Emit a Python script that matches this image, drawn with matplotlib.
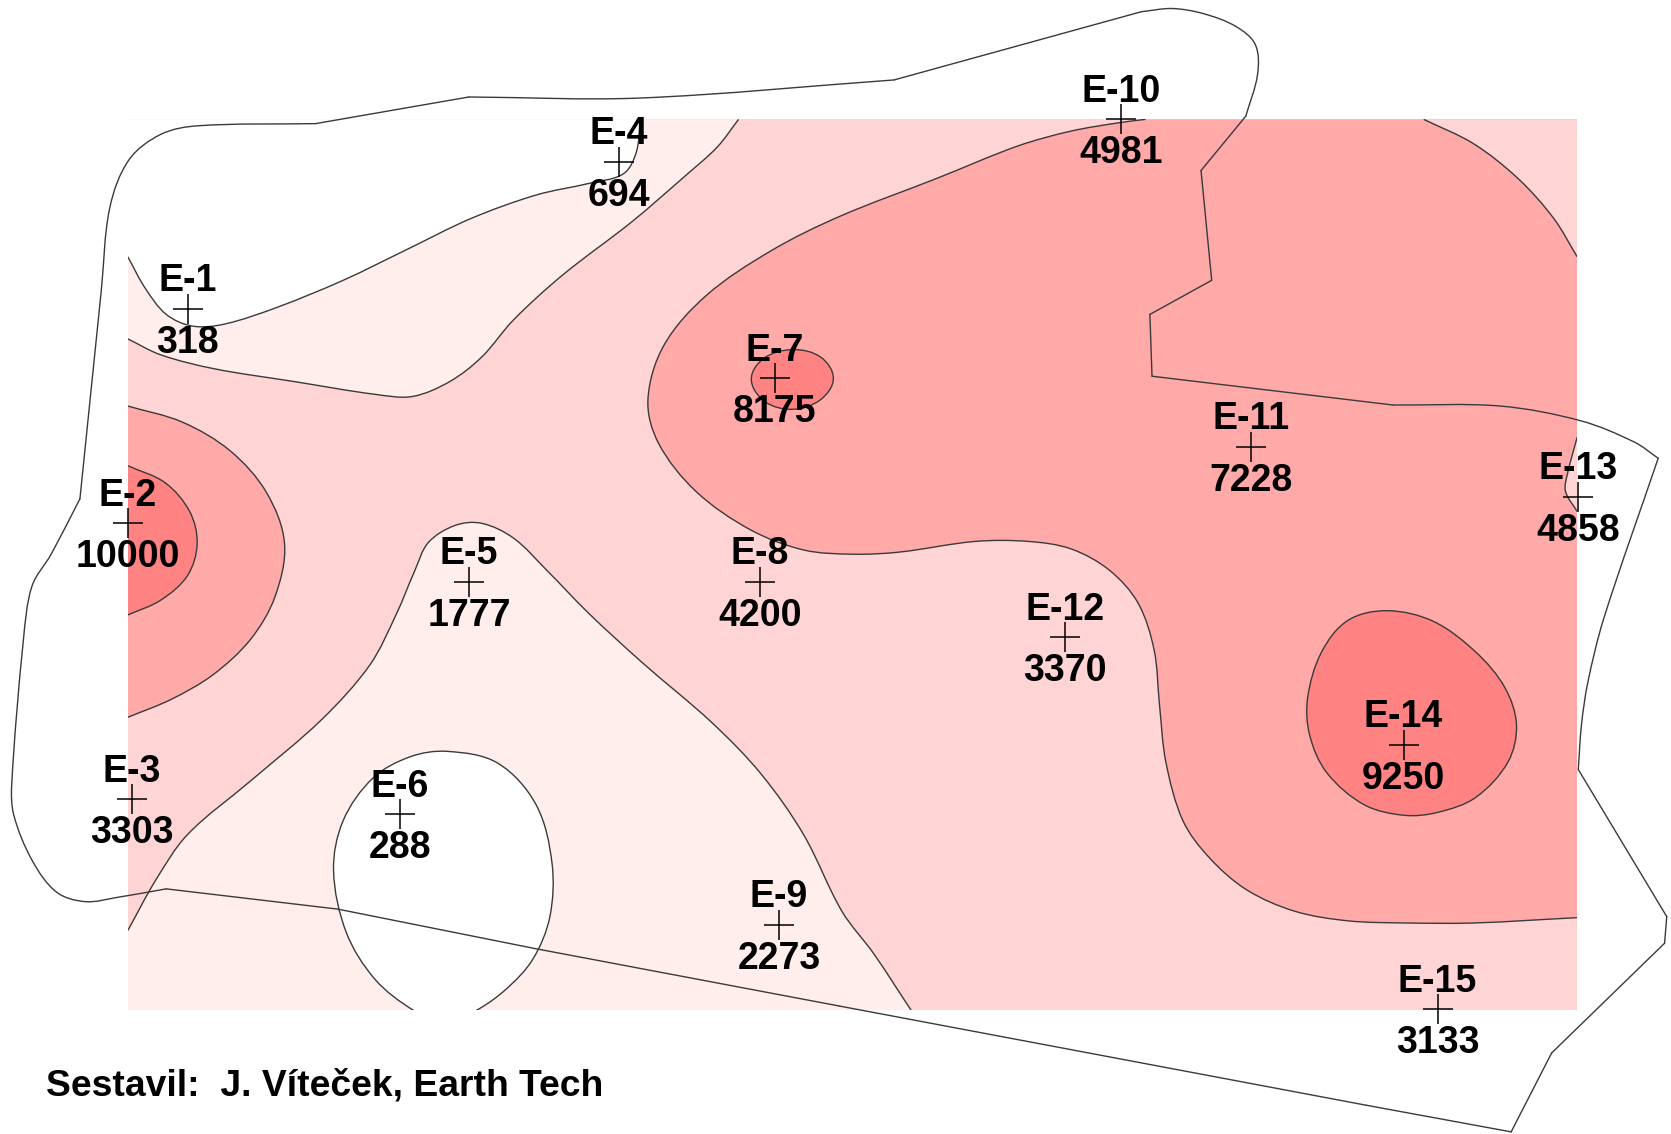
import math
import matplotlib
matplotlib.use("Agg")
import matplotlib.pyplot as plt
from matplotlib.path import Path
from matplotlib.patches import PathPatch, Rectangle

# wells
well_names = ["E-1", "E-2", "E-3", "E-4", "E-5", "E-6", "E-7", "E-8", "E-9", "E-10", "E-11", "E-12", "E-13", "E-14", "E-15"]
well_x = [176, 120, 124, 581, 440, 375, 727, 713, 731, 1052, 1174, 999, 1481, 1317, 1349]
well_y = [290, 491, 750, 152, 546, 764, 355, 546, 868, 112, 419, 598, 466, 699, 947]
well_values = [318, 10000, 3303, 694, 1777, 288, 8175, 4200, 2273, 4981, 7228, 3370, 4858, 9250, 3133]

# colours
c_lightest = "#FFEEEC"
c_light = "#FFD4D4"
c_medium = "#FFA9A9"
c_dark = "#FF8383"
line_col = "#3a3a3a"

# area of the map
rect_x = [120, 1480]
rect_y = [112, 948]

# contours
white_top = [(120, 241), (136, 270), (156, 295), (181, 306), (211, 304), (261, 288), (322, 263), (382, 234),
             (442, 205), (503, 183), (553, 172), (585, 163), (597, 143), (601, 112)]
lightest_top = [(120, 318), (151, 333), (201, 346), (276, 358), (352, 370), (387, 372), (422, 358), (452, 335),
                (482, 300), (528, 258), (593, 208), (643, 165), (673, 138), (693, 112)]
lightest_bottom = [(120, 873), (146, 826), (176, 783), (236, 732), (302, 675), (347, 624), (372, 576), (389, 536),
                   (402, 509), (427, 493), (452, 491), (482, 505), (513, 535), (553, 576), (603, 622), (668, 678),
                   (714, 726), (754, 783), (790, 855), (820, 895), (855, 948)]
white_e6 = [(420, 705), (467, 716), (503, 755), (518, 810), (516, 860), (500, 900), (475, 928), (447, 948), (417, 960),
            (388, 948), (352, 919), (325, 875), (313, 817), (322, 770), (350, 730), (385, 710)]
medium_e2 = [(120, 381), (171, 396), (216, 423), (250, 462), (267, 510), (258, 560), (235, 600), (200, 633),
             (161, 656), (120, 673)]
dark_e2 = [(120, 437), (155, 453), (178, 480), (185, 510), (176, 540), (151, 563), (120, 577)]
medium_big = [(1075, 112), (1051, 115), (1005, 123), (955, 137), (880, 167), (788, 203), (724, 235), (663, 277),
              (623, 324), (608, 375), (618, 416), (653, 461), (704, 497), (754, 516), (800, 520), (844, 518),
              (915, 508), (965, 508), (1005, 515), (1041, 535), (1068, 566), (1083, 610), (1088, 661), (1094, 715),
              (1110, 770), (1135, 805), (1170, 835), (1215, 855), (1265, 864), (1320, 866), (1383, 866), (1480, 861)]
corner_tr = [(1336, 112), (1383, 135), (1425, 168), (1458, 205), (1480, 241)]
lens_e13 = [(1480, 410), (1471, 444), (1469, 461), (1480, 480)]
dark_e7 = [(744, 328), (770, 335), (782, 355), (770, 375), (744, 384), (718, 377), (705, 356), (717, 336)]
dark_e14 = [(1302, 573), (1345, 583), (1385, 612), (1412, 645), (1423, 680), (1415, 715), (1385, 748), (1350, 762),
            (1318, 765), (1280, 755), (1245, 725), (1229, 690), (1227, 655), (1240, 612), (1265, 582)]

# site outline, split at the sharp corners
outline_parts = [
    [(1418, 1062), (1456, 988)],
    [(1456, 988), (1562, 885)],
    [(1562, 885), (1564, 860)],
    [(1564, 860), (1481, 722)],
    [(1481, 722), (1484, 680), (1490, 640), (1505, 580), (1556, 430)],
    [(1556, 430), (1534, 415), (1484, 395), (1408, 381), (1307, 380)],
    [(1307, 380), (1081, 353)],
    [(1081, 353), (1079, 295)],
    [(1079, 295), (1137, 263)],
    [(1137, 263), (1127, 160)],
    [(1127, 160), (1169, 109)],
    [(1169, 109), (1180, 70), (1178, 42), (1160, 25), (1130, 13), (1100, 8), (1071, 11)],
    [(1071, 11), (839, 75)],
    [(839, 75), (600, 92), (440, 91)],
    [(440, 91), (296, 116)],
    [(296, 116), (186, 118), (151, 126), (121, 150), (103, 195), (95, 273), (75, 468)],
    [(75, 468), (48, 520), (30, 550), (22, 600), (11, 736), (13, 765), (30, 807), (53, 837), (80, 846), (110, 842), (156, 834)],
    [(156, 834), (317, 853)],
    [(317, 853), (502, 890)],
    [(502, 890), (788, 944)],
    [(788, 944), (1282, 1037)],
    [(1282, 1037), (1418, 1062)],
]


def unit(a, b):
    d = math.hypot(b[0] - a[0], b[1] - a[1])
    return (b[0] - a[0]) / d, (b[1] - a[1]) / d


def smooth(pts, closed=False):
    # bezier through the points, handles a third of each chord long
    n = len(pts)
    if n == 2:
        return [pts[0], pts[1]], [Path.MOVETO, Path.LINETO]
    tang = []
    for i in range(n):
        if closed or 0 < i < n - 1:
            tang.append(unit(pts[(i - 1) % n], pts[(i + 1) % n]))
        elif i == 0:
            tang.append(unit(pts[0], pts[1]))
        else:
            tang.append(unit(pts[-2], pts[-1]))
    verts = [pts[0]]
    codes = [Path.MOVETO]
    for i in range(n if closed else n - 1):
        j = (i + 1) % n
        h = math.hypot(pts[j][0] - pts[i][0], pts[j][1] - pts[i][1]) / 3
        verts.append((pts[i][0] + tang[i][0] * h, pts[i][1] + tang[i][1] * h))
        verts.append((pts[j][0] - tang[j][0] * h, pts[j][1] - tang[j][1] * h))
        verts.append(pts[j])
        codes += [Path.CURVE4, Path.CURVE4, Path.CURVE4]
    return verts, codes


fig = plt.figure(figsize=(16.71, 11.34), dpi=100)
ax = fig.add_axes([0, 0, 1, 1])
ax.set_xlim(0, 1568)
ax.set_ylim(1064, 0)
ax.axis("off")

box = Rectangle((rect_x[0], rect_y[0]), rect_x[1] - rect_x[0], rect_y[1] - rect_y[0],
                facecolor=c_light, edgecolor="none", zorder=1)
ax.add_patch(box)


def region(pts, color, corners=None, closed=False, z=2):
    verts, codes = smooth(pts, closed)
    # fill
    fv = list(verts)
    fc = list(codes)
    if corners:
        fv += corners
        fc += [Path.LINETO] * len(corners)
    fv.append(fv[0])
    fc.append(Path.CLOSEPOLY)
    p = PathPatch(Path(fv, fc), facecolor=color, edgecolor="none", zorder=z)
    ax.add_patch(p)
    p.set_clip_path(box)
    # contour line
    if closed:
        verts = verts + [verts[0]]
        codes = codes + [Path.CLOSEPOLY]
    l = PathPatch(Path(verts, codes), facecolor="none", edgecolor=line_col, lw=1.0, zorder=6)
    ax.add_patch(l)
    l.set_clip_path(box)


region(lightest_top, c_lightest, [(120, 112)], z=2)
region(white_top, "white", [(120, 112)], z=3)
region(lightest_bottom, c_lightest, [(120, 948)], z=2)
region(white_e6, "white", closed=True, z=3)
region(medium_big, c_medium, [(1480, 112)], z=2)
region(corner_tr, c_light, [(1480, 112)], z=3)
region(lens_e13, c_light, z=3)
region(medium_e2, c_medium, z=2)
region(dark_e2, c_dark, z=3)
region(dark_e7, c_dark, closed=True, z=3)
region(dark_e14, c_dark, closed=True, z=3)

for part in outline_parts:
    v, c = smooth(part)
    ax.add_patch(PathPatch(Path(v, c), facecolor="none", edgecolor=line_col, lw=1.0, zorder=7, capstyle="round"))

ax.plot(well_x, well_y, "+", color="black", ms=22, mew=1.1, zorder=8, clip_on=False)

font = "Liberation Sans"
for name, x, y, val in zip(well_names, well_x, well_y, well_values):
    ax.text(x, y - 26, name, ha="center", va="center", fontsize=27, family=font, weight="bold", zorder=9)
    ax.text(x, y + 32, str(val), ha="center", va="center", fontsize=27, family=font, weight="bold", zorder=9)

ax.text(43, 1019, "Sestavil:  J. Víteček, Earth Tech", ha="left", va="center", fontsize=26.8,
        family=font, weight="bold", zorder=9)

fig.savefig("out.png", dpi=100)
